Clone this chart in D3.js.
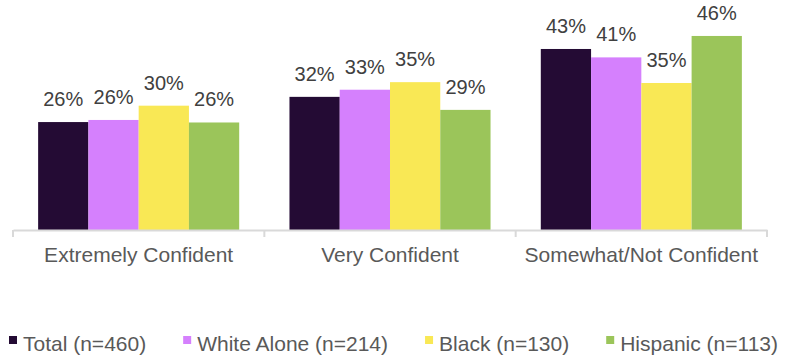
<!DOCTYPE html>
<html>
<head>
<meta charset="utf-8">
<script src="https://cdn.jsdelivr.net/npm/d3@7/dist/d3.min.js"></script>
<style>
  html, body { margin: 0; padding: 0; background: #ffffff; }
  svg { display: block; font-family: "Liberation Sans", Arial, sans-serif; }
</style>
</head>
<body>
<svg id="chart" width="793" height="357"></svg>
<script>
// ---- data ----
const categories = ["Extremely Confident", "Very Confident", "Somewhat/Not Confident"];
const seriesNames = ["Total (n=460)", "White Alone (n=214)", "Black (n=130)", "Hispanic (n=113)"];
const totalValues = [25.7, 31.7, 43.1];
const whiteValues = [26.2, 33.4, 41.1];
const blackValues = [29.6, 35.2, 35.0];
const hispanicValues = [25.6, 28.6, 46.2];
const seriesColors = ["#240b34", "#d580fd", "#f9e855", "#9bc55a"];

const seriesValues = [totalValues, whiteValues, blackValues, hispanicValues];

// ---- layout ----
const svg = d3.select("#chart");
const margin = { left: 13, right: 26, top: 20, bottom: 127 };
const W = 793, H = 357;
const baseY = 230;

const x0 = d3.scaleBand().domain(categories).range([margin.left, W - margin.right]).padding(0);
const x1 = d3.scaleBand().domain(d3.range(seriesNames.length))
  .range([0, x0.bandwidth()]).paddingInner(0).paddingOuter(0.5);
const y = d3.scaleLinear().domain([0, 50]).range([baseY, baseY - 210]);

// bars
const groups = svg.append("g").selectAll("g")
  .data(categories).join("g")
  .attr("transform", d => `translate(${x0(d)},0)`);

groups.each(function(cat, ci) {
  const g = d3.select(this);
  seriesValues.forEach((vals, si) => {
    const v = vals[ci];
    g.append("rect")
      .attr("x", x1(si))
      .attr("y", y(v))
      .attr("width", x1.bandwidth())
      .attr("height", y(0) - y(v))
      .attr("fill", seriesColors[si]);
    g.append("text")
      .attr("x", x1(si) + x1.bandwidth() / 2)
      .attr("y", y(v) - 16)
      .attr("text-anchor", "middle")
      .attr("font-size", "20px")
      .attr("fill", "#404040")
      .text(Math.round(v) + "%");
  });
});

// x axis
const axis = d3.axisBottom(x0).tickSize(0).tickSizeOuter(0).tickPadding(0);
const axG = svg.append("g").attr("transform", `translate(0,${baseY})`).call(axis);
axG.select(".domain").attr("stroke", "#d9d9d9").attr("stroke-width", 2);
axG.selectAll(".tick text")
  .attr("font-size", "21px")
  .attr("fill", "#595959")
  .attr("font-family", "Liberation Sans, Arial, sans-serif")
  .attr("dy", null)
  .attr("y", 32);
// boundary tick marks
const boundaries = categories.map(c => x0(c)).concat([x0.range()[1]]);
svg.append("g").selectAll("line").data(boundaries).join("line")
  .attr("x1", d => d).attr("x2", d => d)
  .attr("y1", baseY).attr("y2", baseY + 7)
  .attr("stroke", "#d9d9d9").attr("stroke-width", 2);

// legend
const legend = svg.append("g").attr("class", "legend");
let lx = 9;
const textOffset = 14, itemGap = 37;
seriesNames.forEach((name, i) => {
  legend.append("rect")
    .attr("x", lx).attr("y", 336)
    .attr("width", 8).attr("height", 8)
    .attr("fill", seriesColors[i]);
  const t = legend.append("text")
    .attr("x", lx + textOffset).attr("y", 351)
    .attr("font-size", "21px")
    .attr("fill", "#595959")
    .text(name);
  lx = lx + textOffset + t.node().getComputedTextLength() + itemGap;
});
</script>
</body>
</html>
